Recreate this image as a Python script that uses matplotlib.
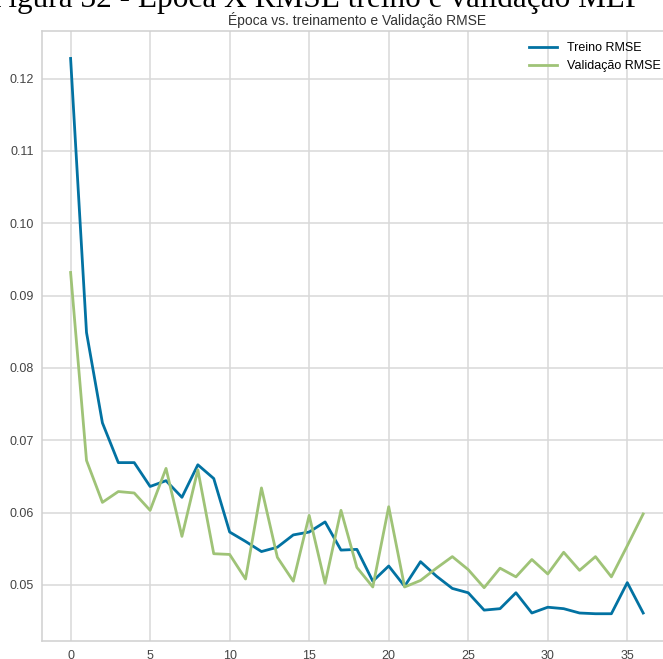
import matplotlib
matplotlib.use("Agg")
import matplotlib.pyplot as plt

plt.rcParams["font.family"] = ["Liberation Sans", "DejaVu Sans"]

# RMSE por época (treino e validação)
epocas = list(range(37))
treino_rmse = [0.1228, 0.0849, 0.0724, 0.0669, 0.0669, 0.0636, 0.0644, 0.0621, 0.0666, 0.0647,
               0.0573, 0.0560, 0.0546, 0.0552, 0.0569, 0.0573, 0.0587, 0.0548, 0.0549, 0.0505,
               0.0526, 0.0498, 0.0532, 0.0512, 0.0495, 0.0489, 0.0465, 0.0467, 0.0489, 0.0461,
               0.0469, 0.0467, 0.0461, 0.0460, 0.0460, 0.0503, 0.0461]
validacao_rmse = [0.0932, 0.0672, 0.0614, 0.0629, 0.0627, 0.0603, 0.0661, 0.0567, 0.0659, 0.0543,
                  0.0542, 0.0508, 0.0634, 0.0538, 0.0505, 0.0596, 0.0502, 0.0603, 0.0524, 0.0497,
                  0.0608, 0.0497, 0.0506, 0.0523, 0.0539, 0.0521, 0.0496, 0.0523, 0.0511, 0.0535,
                  0.0515, 0.0545, 0.0520, 0.0539, 0.0511, 0.0554, 0.0598]

cor_treino = "#0272a2"
cor_validacao = "#9fc377"

fig = plt.figure(figsize=(6.63, 6.59), dpi=100)
ax = fig.add_axes([0.0633, 0.027, 0.95, 0.926])
ax.set_facecolor("white")

ax.plot(epocas, treino_rmse, color=cor_treino, lw=2, label="Treino RMSE")
ax.plot(epocas, validacao_rmse, color=cor_validacao, lw=2, label="Validação RMSE")

ax.set_xlim(-1.8, 37.8)
ax.set_ylim(0.0422, 0.1266)
ax.set_yticks([0.05, 0.06, 0.07, 0.08, 0.09, 0.10, 0.11, 0.12])
ax.set_yticklabels(["0.05", "0.06", "0.07", "0.08", "0.09", "0.10", "0.11", "0.12"])
ax.set_xticks([0, 5, 10, 15, 20, 25, 30, 35])

ax.grid(True, color="#d9d9d9", lw=1.1)
ax.set_axisbelow(True)
for s in ax.spines.values():
    s.set_color("#d0d0d0")
    s.set_linewidth(1.1)
ax.tick_params(length=0, labelsize=9, colors="#444444", pad=6)

ax.set_title("Época vs. treinamento e Validação RMSE", fontsize=10, color="#333333", pad=4)
ax.legend(loc="upper right", frameon=False, fontsize=9, handlelength=2.2)

# legenda do documento (cortada no topo)
fig.text(-0.014, 0.989, "Figura 32 - Época X RMSE treino e validação MLP",
         family="Liberation Serif", fontsize=22.5, ha="left", va="baseline", color="black")

fig.savefig("out.png", dpi=100, facecolor="white")
